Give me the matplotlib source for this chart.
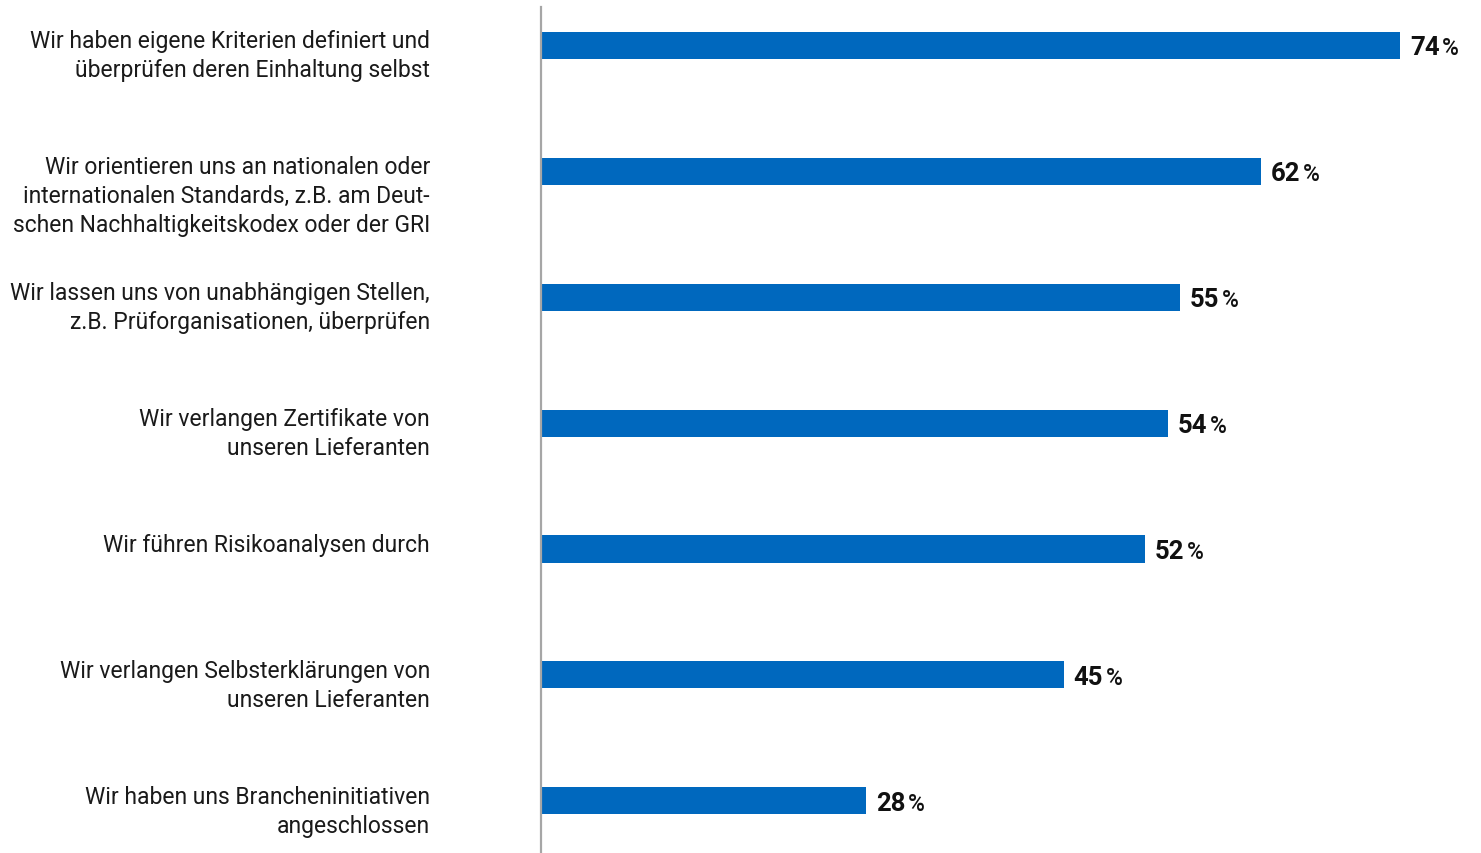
import matplotlib
matplotlib.use("Agg")
import matplotlib.pyplot as plt

labels = [
    "Wir haben eigene Kriterien definiert und\nüberprüfen deren Einhaltung selbst",
    "Wir orientieren uns an nationalen oder\ninternationalen Standards, z.B. am Deut-\nschen Nachhaltigkeitskodex oder der GRI",
    "Wir lassen uns von unabhängigen Stellen,\nz.B. Prüforganisationen, überprüfen",
    "Wir verlangen Zertifikate von\nunseren Lieferanten",
    "Wir führen Risikoanalysen durch",
    "Wir verlangen Selbsterklärungen von\nunseren Lieferanten",
    "Wir haben uns Brancheninitiativen\nangeschlossen",
]
values = [74, 62, 55, 54, 52, 45, 28]

plt.rcParams['font.family'] = ['Roboto', 'DejaVu Sans']

fig = plt.figure(figsize=(14.81, 8.54), dpi=100)
ax = fig.add_axes([0.3653, 0.0, 0.6272, 0.9906])

pos = list(range(len(values)))
ax.barh(pos, values, height=0.215, color='#0068be')
ax.set_xlim(0, 80)
ax.set_ylim(6.415, -0.305)

for s in ['top', 'right', 'bottom']:
    ax.spines[s].set_visible(False)
ax.spines['left'].set_color('#a6a6a6')
ax.spines['left'].set_linewidth(1.6)
ax.set_xticks([])
ax.set_yticks([])

for i, lab in enumerate(labels):
    ax.annotate(lab, xy=(0, i), xycoords=('axes fraction', 'data'),
                xytext=(-80, 11.5), textcoords='offset points',
                ha='right', va='top', fontsize=16.5, linespacing=1.33,
                color='#1a1a1a')

for i, v in enumerate(values):
    t = ax.annotate(str(v), xy=(v, i), xytext=(7, -6.5), textcoords='offset points',
                    ha='left', va='baseline', fontsize=18.5, fontweight='bold',
                    color='#111111')
    ax.annotate('%', xy=(1, i), xycoords=(t, 'data'), xytext=(2, -6.5),
                textcoords='offset points', ha='left', va='baseline',
                fontsize=16.5, fontweight='medium', color='#111111')

fig.savefig('out.png', dpi=100)
